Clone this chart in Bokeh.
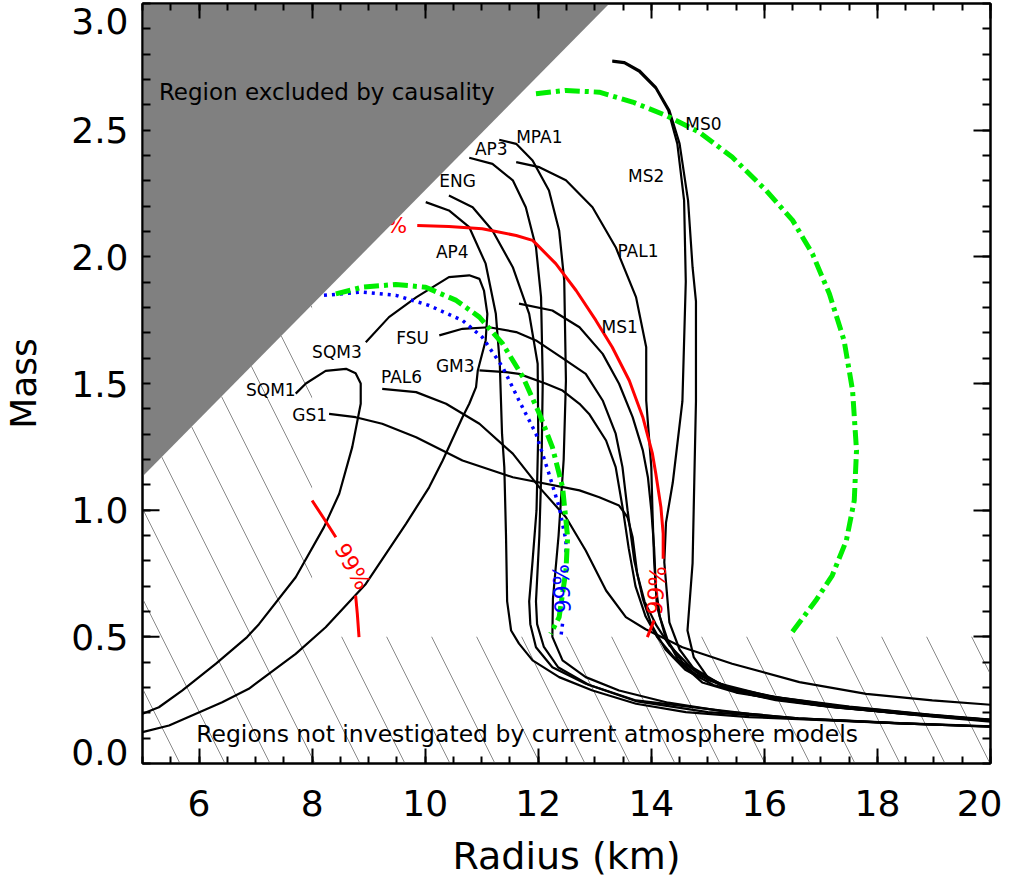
from bokeh.plotting import figure
from bokeh.models import LinearAxis, FixedTicker, PrintfTickFormatter, Range1d
from bokeh.embed import file_html
from bokeh.resources import INLINE
from bokeh.core.properties import value

FONT = "DejaVu Sans"
nan = float("nan")

# ---------------- tick values ----------------
x_major = [6, 8, 10, 12, 14, 16, 18, 20]
x_minor = [5 + 0.5 * i for i in range(31)]
y_major = [0.5, 1.0, 1.5, 2.0, 2.5]
y_minor = [round(0.1 * i, 1) for i in range(31)]
# the "0.0" and "3.0" labels sit just inside the frame height, as in the original
y_label_pos = [0.047, 0.5, 1.0, 1.5, 2.0, 2.5, 2.93]
y_label_over = {0.047: "0.0", 2.93: "3.0"}

# ---------------- regions ----------------
causal_r = [5.0, 13.26, 5.0]
causal_m = [3.0, 3.0, 1.133]
hatch_r = [5.0, 20.0, 20.0, 8.0, 8.0, 5.0]
hatch_m = [0.0, 0.0, 0.5, 0.5, 1.81, 1.133]

# ---------------- mass-radius curves (R km, M Msun) ----------------
ms0_r = [13.31, 13.52, 13.79, 14.08, 14.32, 14.50, 14.65, 14.73, 14.79, 14.79, 14.76, 14.73, 14.64, 14.75, 15.0, 15.5, 16.2, 17.2, 18.5, 20.0]
ms0_m = [2.775, 2.769, 2.736, 2.67, 2.578, 2.447, 2.223, 1.959, 1.824, 1.43, 1.11, 0.79, 0.525, 0.42, 0.34, 0.285, 0.25, 0.222, 0.198, 0.172]
ms2_r = [13.31, 13.52, 13.79, 14.08, 14.30, 14.46, 14.58, 14.61, 14.55, 14.38, 14.26, 14.23, 14.32, 14.5, 14.8, 15.3, 16.0, 17.0, 18.5, 20.0]
ms2_m = [2.77, 2.765, 2.73, 2.665, 2.578, 2.447, 2.223, 1.903, 1.429, 1.109, 0.951, 0.794, 0.557, 0.45, 0.36, 0.30, 0.262, 0.228, 0.195, 0.165]
pal1_r = [11.61, 12.02, 12.49, 12.96, 13.37, 13.73, 13.91, 13.91, 14.0, 14.02, 14.05, 14.1, 14.25, 14.5, 14.9, 15.5, 16.3, 17.3, 18.7, 20.0]
pal1_m = [2.374, 2.354, 2.302, 2.196, 2.038, 1.841, 1.643, 1.433, 1.17, 1.0, 0.8, 0.62, 0.5, 0.4, 0.32, 0.28, 0.25, 0.22, 0.192, 0.17]
mpa1_r = [11.31, 11.61, 11.90, 12.19, 12.37, 12.46, 12.49, 12.45, 12.36, 12.26, 12.25, 12.43, 12.84, 13.43, 14.3, 15.3, 16.6, 18.4, 20.0]
mpa1_m = [2.462, 2.446, 2.38, 2.262, 2.104, 1.907, 1.512, 1.2, 0.9, 0.65, 0.5, 0.407, 0.341, 0.288, 0.24, 0.205, 0.178, 0.158, 0.145]
ap3_r = [10.78, 11.19, 11.55, 11.78, 11.96, 12.05, 12.08, 12.06, 12.02, 11.96, 11.98, 12.1, 12.35, 12.9, 13.75, 15.0, 16.6, 18.4, 20.0]
ap3_m = [2.391, 2.367, 2.302, 2.196, 2.038, 1.841, 1.512, 1.2, 0.9, 0.64, 0.55, 0.46, 0.38, 0.31, 0.245, 0.203, 0.177, 0.158, 0.146]
eng_r = [10.42, 10.84, 11.19, 11.55, 11.84, 11.99, 12.0, 11.97, 11.9, 11.84, 11.86, 11.96, 12.25, 12.84, 13.73, 15.73, 16.6, 18.4, 20.0]
eng_m = [2.242, 2.196, 2.104, 1.959, 1.775, 1.578, 1.3, 1.0, 0.8, 0.64, 0.55, 0.459, 0.38, 0.315, 0.249, 0.196, 0.178, 0.159, 0.147]
ap4_r = [10.01, 10.42, 10.78, 11.07, 11.25, 11.32, 11.36, 11.40, 11.43, 11.45, 11.52, 11.66, 11.90, 12.37, 12.96, 13.73, 14.61, 15.73, 16.6, 18.4, 20.0]
ap4_m = [2.216, 2.183, 2.117, 1.973, 1.775, 1.578, 1.3, 1.17, 0.9, 0.64, 0.525, 0.473, 0.407, 0.341, 0.288, 0.236, 0.203, 0.183, 0.175, 0.158, 0.145]
ms1_r = [11.66, 12.25, 12.73, 13.14, 13.43, 13.67, 13.85, 13.94, 14.0, 14.05, 14.08, 14.15, 14.3, 14.55, 15.0, 15.6, 16.5, 17.6, 18.9, 20.0]
ms1_m = [1.815, 1.788, 1.722, 1.617, 1.499, 1.367, 1.236, 1.13, 1.0, 0.85, 0.7, 0.58, 0.48, 0.4, 0.33, 0.285, 0.25, 0.218, 0.19, 0.172]
fsu_r = [10.25, 10.66, 11.13, 11.61, 11.96, 12.43, 12.84, 13.14, 13.37, 13.49, 13.58, 13.7, 13.85, 14.0, 14.25, 14.6, 15.1, 15.8, 16.8, 18.3, 20.0]
fsu_m = [1.69, 1.716, 1.722, 1.703, 1.67, 1.60, 1.538, 1.433, 1.302, 1.17, 1.0, 0.8, 0.65, 0.55, 0.45, 0.37, 0.31, 0.27, 0.235, 0.2, 0.168]
gm3_r = [10.96, 11.43, 11.66, 12.14, 12.43, 12.73, 12.90, 13.20, 13.37, 13.5, 13.6, 13.72, 13.9, 14.1, 14.4, 14.8, 15.4, 16.2, 17.3, 18.7, 20.0]
gm3_m = [1.552, 1.545, 1.538, 1.499, 1.472, 1.42, 1.38, 1.275, 1.17, 1.0, 0.85, 0.7, 0.58, 0.5, 0.42, 0.35, 0.30, 0.262, 0.228, 0.197, 0.17]
gs1_r = [8.30, 8.77, 9.24, 9.84, 10.66, 11.55, 12.73, 13.08, 13.43, 13.58, 13.67, 13.75, 13.88, 14.09, 14.32, 14.67, 15.2, 16.09, 17.5, 18.92, 20.0]
gs1_m = [1.38, 1.367, 1.341, 1.288, 1.196, 1.13, 1.078, 1.051, 1.018, 0.972, 0.893, 0.75, 0.64, 0.545, 0.466, 0.387, 0.316, 0.265, 0.225, 0.193, 0.173]
pal6_r = [9.24, 9.84, 10.37, 10.96, 11.55, 12.02, 12.49, 12.84, 13.20, 13.55, 13.9, 14.55, 15.43, 16.62, 17.8, 18.97, 20.0]
pal6_m = [1.479, 1.466, 1.42, 1.341, 1.223, 1.09, 0.972, 0.841, 0.683, 0.578, 0.53, 0.459, 0.394, 0.321, 0.275, 0.249, 0.232]
sqm1_r = [7.71, 7.89, 8.24, 8.60, 8.77, 8.86, 8.86, 8.71, 8.48, 8.21, 7.71, 7.06, 6.85, 6.30, 5.70, 5.29, 5.0]
sqm1_m = [1.46, 1.50, 1.55, 1.558, 1.54, 1.50, 1.42, 1.249, 1.065, 0.933, 0.735, 0.55, 0.499, 0.394, 0.288, 0.222, 0.196]
sqm3_r = [8.95, 9.36, 9.84, 10.42, 10.78, 10.96, 11.04, 11.10, 11.07, 10.93, 10.90, 10.78, 10.66, 10.31, 10.07, 9.66, 8.95, 8.24, 7.71, 6.88, 6.41, 5.47, 5.0]
sqm3_m = [1.663, 1.762, 1.84, 1.92, 1.927, 1.913, 1.867, 1.775, 1.67, 1.55, 1.486, 1.42, 1.367, 1.196, 1.09, 0.946, 0.709, 0.538, 0.433, 0.295, 0.242, 0.15, 0.124]

black_curves = [
    (ms0_r, ms0_m), (ms2_r, ms2_m), (pal1_r, pal1_m), (mpa1_r, mpa1_m),
    (ap3_r, ap3_m), (eng_r, eng_m), (ap4_r, ap4_m), (ms1_r, ms1_m),
    (fsu_r, fsu_m), (gm3_r, gm3_m), (gs1_r, gs1_m), (pal6_r, pal6_m),
    (sqm1_r, sqm1_m), (sqm3_r, sqm3_m),
]

# ---------------- confidence contours ----------------
red_r = [9.86, 10.42, 11.01, 11.61, 11.90, 11.96, 12.31, 12.67, 13.02, 13.31, 13.61, 13.85, 14.02, 14.08, 14.17, 14.21, 14.21, nan, 14.05, 13.93]
red_m = [2.124, 2.12, 2.111, 2.084, 2.065, 2.052, 1.973, 1.867, 1.749, 1.643, 1.512, 1.367, 1.223, 1.144, 1.012, 0.907, 0.808, nan, 0.565, 0.499]
red2_r = [8.0, 8.2, 8.42, nan, 8.77, 8.80, 8.83]
red2_m = [1.038, 0.97, 0.893, nan, 0.663, 0.591, 0.499]
blue_r = [8.21, 8.89, 9.48, 10.07, 10.66, 11.01, 11.37, 11.66, 11.96, 12.19, 12.37, 12.49, 12.49, nan, 12.43, 12.40]
blue_m = [1.848, 1.861, 1.848, 1.808, 1.749, 1.683, 1.565, 1.433, 1.302, 1.144, 1.012, 0.88, 0.814, nan, 0.552, 0.499]
green_in_r = [8.42, 8.89, 9.48, 10.01, 10.55, 10.96, 11.37, 11.73, 12.02, 12.25, 12.43, 12.52, 12.49, 12.37, 12.22]
green_in_m = [1.854, 1.880, 1.891, 1.880, 1.828, 1.762, 1.657, 1.525, 1.381, 1.249, 1.091, 0.893, 0.762, 0.578, 0.512]
green_out_r = [11.96, 12.49, 13.08, 13.67, 14.26, 14.85, 15.43, 16.03, 16.50, 16.85, 17.15, 17.41, 17.56, 17.63, 17.59, 17.45, 17.2, 16.91, 16.47]
green_out_m = [2.644, 2.657, 2.650, 2.611, 2.558, 2.492, 2.394, 2.262, 2.144, 2.012, 1.854, 1.67, 1.473, 1.236, 1.038, 0.88, 0.742, 0.643, 0.512]

# ---------------- labels ----------------
eos_names = ["MS0", "MS2", "PAL1", "MPA1", "AP3", "ENG", "AP4", "MS1", "SQM3", "FSU", "GM3", "PAL6", "SQM1", "GS1"]
eos_lab_r = [14.60, 13.59, 13.40, 11.61, 10.88, 10.25, 10.19, 13.12, 8.0, 9.49, 10.19, 9.22, 6.83, 7.65]
eos_lab_m = [2.525, 2.321, 2.025, 2.475, 2.424, 2.298, 2.021, 1.725, 1.623, 1.678, 1.571, 1.524, 1.473, 1.374]

p = figure(frame_width=848, frame_height=760, x_range=Range1d(5, 20), y_range=Range1d(0, 3),
           output_backend="svg", toolbar_location=None,
           min_border_left=136, min_border_right=12, min_border_top=3, min_border_bottom=0,
           x_axis_label="Radius (km)", y_axis_label="Mass")
p.grid.visible = False
p.outline_line_color = "black"
p.outline_line_width = 2
p.background_fill_color = "white"
p.border_fill_color = "white"

xt = FixedTicker(ticks=x_major, minor_ticks=x_minor)
yt = FixedTicker(ticks=y_major, minor_ticks=y_minor)

def style(ax, ticker, tin, tmin, labels):
    ax.ticker = ticker
    ax.major_tick_in = tin
    ax.major_tick_out = 0
    ax.minor_tick_in = tmin
    ax.minor_tick_out = 0
    ax.major_tick_line_width = 2
    ax.minor_tick_line_width = 2
    ax.axis_line_width = 2
    ax.major_tick_line_color = "black"
    ax.minor_tick_line_color = "black"
    if not labels:
        ax.major_label_text_font_size = "0px"
        ax.major_label_text_alpha = 0
        ax.major_label_standoff = 0

style(p.xaxis[0], xt, 15, 7, True)
# left axis: labels from y_label_pos, its tick marks drawn as minor ticks + rays below
style(p.yaxis[0], FixedTicker(ticks=y_label_pos, minor_ticks=y_minor), 17, 8, True)
p.yaxis[0].major_tick_line_color = None
p.xaxis[0].formatter = PrintfTickFormatter(format="%d")
p.yaxis[0].formatter = PrintfTickFormatter(format="%.1f")
p.yaxis[0].major_label_overrides = y_label_over
for ax in (p.xaxis[0], p.yaxis[0]):
    ax.major_label_text_font = FONT
    ax.major_label_text_font_size = "36px"
    ax.major_label_text_color = "black"
    ax.axis_label_text_font = FONT
    ax.axis_label_text_font_style = "normal"
    ax.axis_label_text_color = "black"
p.xaxis[0].axis_label_text_font_size = "38px"
p.yaxis[0].axis_label_text_font_size = "36px"
p.xaxis[0].major_label_standoff = 26
p.xaxis[0].axis_label_standoff = 15
p.yaxis[0].major_label_standoff = 14
p.yaxis[0].axis_label_standoff = 24

top = LinearAxis()
style(top, xt, 15, 7, False)
p.add_layout(top, "above")
right = LinearAxis()
style(right, yt, 17, 8, False)
p.add_layout(right, "right")

# hatched region (not investigated by atmosphere models)
p.patch(hatch_r, hatch_m, fill_color=None, line_color=None,
        hatch_pattern="\\", hatch_color="#8a8a8a", hatch_scale=90, hatch_weight=1)

# left major tick marks (inward)
p.ray(x=[5.0] * len(y_major), y=y_major, length=17, length_units="screen", angle=0,
      line_color="black", line_width=2)

for r, m in black_curves:
    p.line(r, m, line_color="black", line_width=2.2)

p.line(red_r, red_m, line_color="red", line_width=3)
p.line(red2_r, red2_m, line_color="red", line_width=3)
p.line(blue_r, blue_m, line_color="blue", line_width=3.5, line_dash="3 5")
p.line(green_in_r, green_in_m, line_color="#00ee00", line_width=5, line_dash="15 5 4 5")
p.line(green_out_r, green_out_m, line_color="#00ee00", line_width=5, line_dash="15 5 4 5")

# 99% labels
p.text(x=[9.68], y=[2.124], text=["99%"], text_font=value(FONT), text_font_size="22px",
       text_color="red", text_align="right", text_baseline="middle")
p.text(x=[8.71], y=[0.778], text=["99%"], angle=-1.06, text_font=value(FONT), text_font_size="22px",
       text_color="red", text_align="center", text_baseline="middle")
p.text(x=[14.09], y=[0.683], text=["99%"], angle=1.48, text_font=value(FONT), text_font_size="22px",
       text_color="red", text_align="center", text_baseline="middle")
p.text(x=[12.42], y=[0.69], text=["99%"], angle=1.62, text_font=value(FONT), text_font_size="22px",
       text_color="blue", text_align="center", text_baseline="middle")

# causality-excluded region
p.patch(causal_r, causal_m, fill_color="#808080", line_color=None)

p.text(x=[5.29], y=[2.649], text=["Region excluded by causality"], text_font=value(FONT),
       text_font_size="23px", text_color="black", text_align="left", text_baseline="middle")
p.text(x=[5.95], y=[0.118], text=["Regions not investigated by current atmosphere models"],
       text_font=value(FONT), text_font_size="23.5px", text_color="black", text_align="left",
       text_baseline="middle")

p.text(x=eos_lab_r, y=eos_lab_m, text=eos_names, text_font=value(FONT), text_font_size="17px",
       text_color="black", text_align="left", text_baseline="middle")

open("out.html", "w").write(file_html(p, INLINE))
